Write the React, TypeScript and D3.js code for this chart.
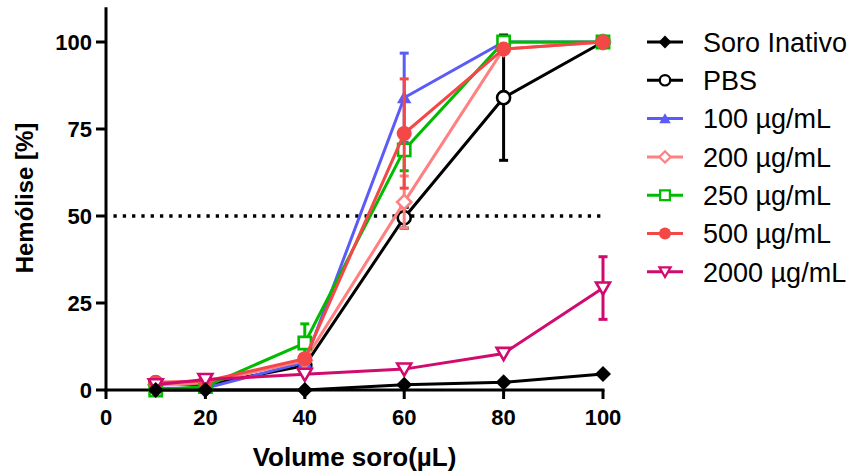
import React from "react";
import * as d3 from "d3";

const volumes = [10, 20, 40, 60, 80, 100];

const soroInativo = [0, 0, 0, 1.5, 2.2, 4.6];
const pbs = [2, 1.5, 7, 49.5, 84, 100];
const pbsErr = [0, 0, 0, 3, 18, 0];
const c100 = [0.5, 0.5, 8, 84, 100, 100];
const c100Err = [0, 0, 0, 12.8, 0, 0];
const c200 = [1.5, 2, 8.5, 54, 98, 100];
const c200Err = [0, 0, 0, 7.5, 0, 0];
const c250 = [0, 1, 13.5, 69, 100, 100];
const c250Err = [0, 0, 5.5, 6, 0, 0];
const c500 = [2.2, 2.5, 9, 73.7, 98, 100];
const c500Err = [0, 0, 0, 15.7, 0, 0];
const c2000 = [1.5, 3, 4.5, 6, 10.5, 29.3];
const c2000Err = [0, 0, 0, 0, 0, 9];

const xTicks = [0, 20, 40, 60, 80, 100];
const yTicks = [0, 25, 50, 75, 100];

type Marker = "diamond" | "circle" | "triangle" | "triangleDown" | "square";

const series: {
  label: string;
  values: number[];
  err: number[];
  color: string;
  marker: Marker;
  filled: boolean;
  size: number;
}[] = [
  { label: "PBS", values: pbs, err: pbsErr, color: "#000000", marker: "circle", filled: false, size: 133 },
  { label: "100 \u00b5g/mL", values: c100, err: c100Err, color: "#5b5bf8", marker: "triangle", filled: true, size: 90 },
  { label: "200 \u00b5g/mL", values: c200, err: c200Err, color: "#ff8080", marker: "diamond", filled: false, size: 100 },
  { label: "250 \u00b5g/mL", values: c250, err: c250Err, color: "#00bb00", marker: "square", filled: false, size: 150 },
  { label: "500 \u00b5g/mL", values: c500, err: c500Err, color: "#f44848", marker: "circle", filled: true, size: 177 },
  { label: "2000 \u00b5g/mL", values: c2000, err: c2000Err, color: "#d10a6e", marker: "triangleDown", filled: false, size: 85 },
  { label: "Soro Inativo", values: soroInativo, err: [0, 0, 0, 0, 0, 0], color: "#000000", marker: "diamond", filled: true, size: 128 },
];

const legendOrder = ["Soro Inativo", "PBS", "100 \u00b5g/mL", "200 \u00b5g/mL", "250 \u00b5g/mL", "500 \u00b5g/mL", "2000 \u00b5g/mL"];

const width = 852;
const height = 476;

const x = d3.scaleLinear().domain([0, 100]).range([106, 603]);
const y = d3.scaleLinear().domain([0, 110]).range([390, 7.2]);

function markerPath(m: Marker, size: number) {
  const type =
    m === "circle" ? d3.symbolCircle :
    m === "triangle" || m === "triangleDown" ? d3.symbolTriangle :
    d3.symbolSquare;
  return d3.symbol().type(type).size(size)() as string;
}

function markerRotate(m: Marker) {
  if (m === "diamond") return 45;
  if (m === "triangleDown") return 180;
  return 0;
}

function Symbol({ s, cx, cy, scale = 1 }: { s: (typeof series)[0]; cx: number; cy: number; scale?: number }) {
  const sw = s.filled ? 0 : 2.6 * Math.max(scale, 0.85);
  const yOff = s.marker === "triangle" ? 1.5 * scale : s.marker === "triangleDown" ? -1.5 * scale : 0;
  return (
    <path
      d={markerPath(s.marker, s.size * scale * scale)}
      transform={`translate(${cx},${cy + yOff}) rotate(${markerRotate(s.marker)})`}
      fill={s.filled ? s.color : "#ffffff"}
      stroke={s.color}
      strokeWidth={sw}
    />
  );
}

export default function App() {
  const line = d3
    .line<number>()
    .x((_, i) => x(volumes[i]))
    .y((d) => y(d));

  const font = "'Liberation Sans', Arial, sans-serif";
  const xTitle = "Volume soro(\u00b5L)";

  return (
    <svg
      width={width}
      height={height}
      style={{ position: "absolute", left: 0, top: 0, background: "#fff" }}
      fontFamily={font}
    >
      {/* 50% reference line */}
      <line
        x1={x(1.5)}
        x2={x(100)}
        y1={y(50)}
        y2={y(50)}
        stroke="#000"
        strokeWidth={3.3}
        strokeDasharray="3.3 6"
      />

      {/* axes */}
      <g stroke="#000" strokeWidth={3}>
        <line x1={x(0)} x2={x(0)} y1={y(110)} y2={y(0) + 1.5} />
        <line x1={x(0) - 1.5} x2={x(100) + 1.5} y1={y(0)} y2={y(0)} />
        {yTicks.map((t) => (
          <line key={"yt" + t} x1={x(0) - 10} x2={x(0)} y1={y(t)} y2={y(t)} />
        ))}
        {xTicks.map((t) => (
          <line key={"xt" + t} x1={x(t)} x2={x(t)} y1={y(0)} y2={y(0) + 9} />
        ))}
      </g>
      <g fontSize={22} fontWeight="bold" fill="#000">
        {yTicks.map((t) => (
          <text key={"yl" + t} x={x(0) - 14} y={y(t)} dy="0.36em" textAnchor="end">
            {t}
          </text>
        ))}
        {xTicks.map((t) => (
          <text key={"xl" + t} x={x(t)} y={425} textAnchor="middle">
            {t}
          </text>
        ))}
      </g>
      <text x={(x(0) + x(100)) / 2} y={466} textAnchor="middle" fontSize={26} fontWeight="bold">
        {xTitle}
      </text>
      <text
        transform="translate(33,198) rotate(-90)"
        textAnchor="middle"
        fontSize={24}
        fontWeight="bold"
      >
        Hemólise [%]
      </text>

      {/* series */}
      {series.map((s) => (
        <g key={s.label}>
          <path d={line(s.values) as string} fill="none" stroke={s.color} strokeWidth={3} />
          {s.values.map((v, i) =>
            s.err[i] > 0 ? (
              <g key={i} stroke={s.color} strokeWidth={3}>
                <line x1={x(volumes[i])} x2={x(volumes[i])} y1={y(v - s.err[i])} y2={y(v + s.err[i])} />
                <line x1={x(volumes[i]) - 4.5} x2={x(volumes[i]) + 4.5} y1={y(v + s.err[i])} y2={y(v + s.err[i])} />
                <line x1={x(volumes[i]) - 4.5} x2={x(volumes[i]) + 4.5} y1={y(v - s.err[i])} y2={y(v - s.err[i])} />
              </g>
            ) : null
          )}
          {s.values.map((v, i) => (
            <Symbol key={"m" + i} s={s} cx={x(volumes[i])} cy={y(v)} />
          ))}
        </g>
      ))}

      {/* legend */}
      <g>
        {legendOrder.map((label, i) => {
          const s = series.find((d) => d.label === label)!;
          const ly = 42 + i * 38.3;
          return (
            <g key={"lg" + label}>
              <line x1={647} x2={683} y1={ly} y2={ly} stroke={s.color} strokeWidth={3} />
              <Symbol s={s} cx={665} cy={ly} scale={0.8} />
              <text x={703} y={ly} dy="0.36em" fontSize={27} fill="#000">
                {label}
              </text>
            </g>
          );
        })}
      </g>
    </svg>
  );
}
